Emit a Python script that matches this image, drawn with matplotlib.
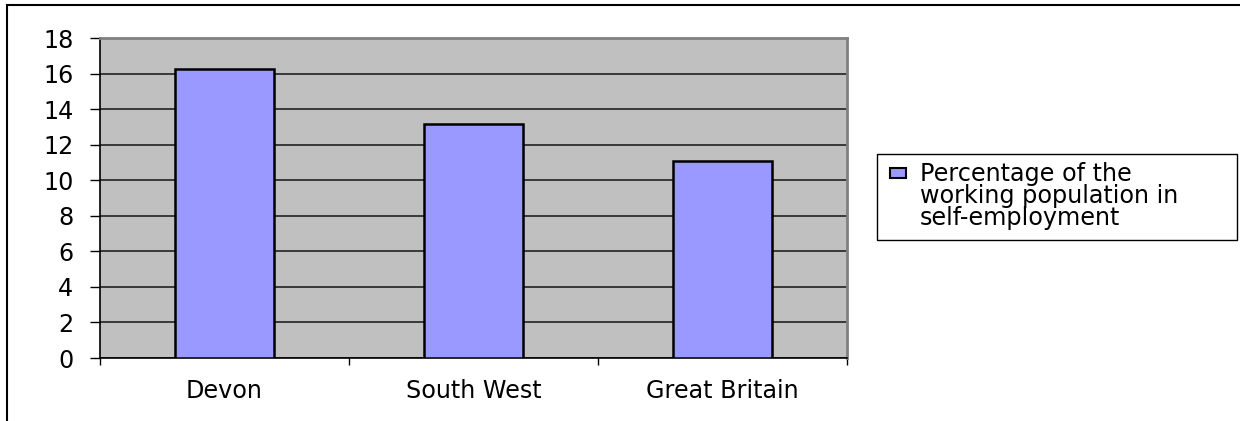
import matplotlib
matplotlib.use("Agg")
import matplotlib.pyplot as plt
from matplotlib.patches import Rectangle
import numpy as np

categories = ["Devon", "South West", "Great Britain"]
values = [16.25, 13.18, 11.08]
series_lines = ["Percentage of the", "working population in", "self-employment"]
yticks = [0, 2, 4, 6, 8, 10, 12, 14, 16, 18]

plt.rcParams['font.family'] = ['DejaVu Sans']
FS = 17.2
BAR_COLOR = '#9999FF'

W, H = 1240, 421
fig = plt.figure(figsize=(W/100, H/100), dpi=100)
fig.patch.set_facecolor('white')

def fx(px):
    return px / W

def fy(py):
    return 1 - py / H

# outer chart border (only top/left visible)
fig.add_artist(Rectangle((fx(7), -0.5), 2.0, 0.5 + fy(5), transform=fig.transFigure,
                         fill=False, edgecolor='black', linewidth=1.5, clip_on=False))

left, right, top, bottom = 100, 847, 38, 358
ax = fig.add_axes([fx(left), fy(bottom), (right-left)/W, (bottom-top)/H])
ax.set_facecolor('#C0C0C0')

x = np.arange(len(categories))
ax.bar(x, values, width=0.4, color=BAR_COLOR, edgecolor='black', linewidth=1.8, zorder=3)
ax.set_xlim(-0.5, len(categories)-0.5)
ax.set_ylim(0, 18)
ax.set_yticks(yticks)
ax.set_yticklabels([str(v) for v in yticks])
ax.yaxis.grid(True, color='#222222', linewidth=1.2, zorder=1)
ax.set_axisbelow(True)

ax.set_xticks(x)
ax.set_xticklabels(categories)
ax.set_xticks(np.arange(len(categories)+1) - 0.5, minor=True)
ax.tick_params(axis='x', which='major', length=0, pad=15, labelsize=FS)
ax.tick_params(axis='x', which='minor', length=5, width=1, direction='out', color='black')
ax.tick_params(axis='y', length=7.2, width=1, direction='out', pad=12, labelsize=FS, color='black')

for s in ['left', 'bottom']:
    ax.spines[s].set_color('black')
    ax.spines[s].set_linewidth(1.2)
for s in ['right', 'top']:
    ax.spines[s].set_color('#808080')
    ax.spines[s].set_linewidth(2)

# legend (drawn manually to match layout: handle aligned to first line)
fig.add_artist(Rectangle((fx(877), fy(240)), (1237-877)/W, (240-154)/H, transform=fig.transFigure,
                         facecolor='white', edgecolor='black', linewidth=1.0))
fig.add_artist(Rectangle((fx(890), fy(178)), (906-890)/W, (178-168)/H, transform=fig.transFigure,
                         facecolor=BAR_COLOR, edgecolor='black', linewidth=1.5))
for i, line in enumerate(series_lines):
    fig.text(fx(920), fy(181 + 22*i), line, fontsize=FS, ha='left', va='baseline')

fig.savefig('out.png', dpi=100)
